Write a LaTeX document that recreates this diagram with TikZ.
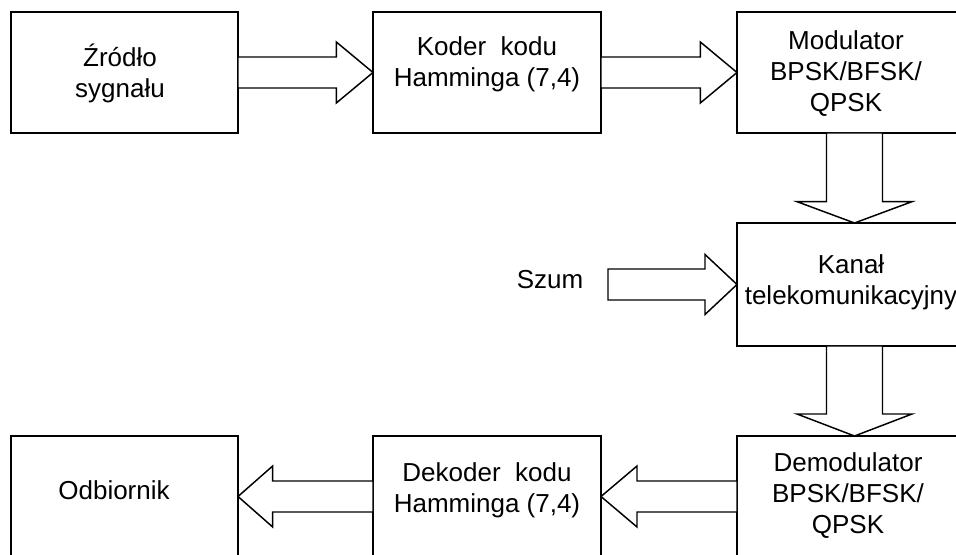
\documentclass[tikz,border=0pt]{standalone}
\usepackage{fontspec}
\setmainfont{Liberation Sans}
\usetikzlibrary{calc}
\tikzset{
  box/.style={draw, line width=1.1pt, inner sep=0pt, outer sep=0pt, minimum height=90.75pt},
  txt/.style={inner sep=0pt, align=center, font=\fontsize{19.5pt}{23.25pt}\selectfont},
  fat/.style={draw, line width=1.1pt, line join=miter, fill=white}
}
% horizontal fat arrow: from, to, shaft half width, head half width, head length
\newcommand\harrow[5]{%
  \draw[fat] let \p1=(#1), \p2=(#2), \n1={(\x2-\x1)/abs(\x2-\x1)} in
    (\x1,{\y1+#3}) -- ({\x2-\n1*#5},{\y1+#3}) -- ({\x2-\n1*#5},{\y1+#4}) --
    (\x2,\y1) -- ({\x2-\n1*#5},{\y1-#4}) -- ({\x2-\n1*#5},{\y1-#3}) --
    (\x1,{\y1-#3}) -- cycle;}
% vertical fat arrow (downwards)
\newcommand\varrow[5]{%
  \draw[fat] let \p1=(#1), \p2=(#2), \n1={(\y2-\y1)/abs(\y2-\y1)} in
    ({\x1+#3},\y1) -- ({\x1+#3},{\y2-\n1*#5}) -- ({\x1+#4},{\y2-\n1*#5}) --
    (\x1,\y2) -- ({\x1-#4},{\y2-\n1*#5}) -- ({\x1-#3},{\y2-\n1*#5}) --
    ({\x1-#3},\y1) -- cycle;}
\begin{document}
\begin{tikzpicture}[x=0.75pt,y=-0.75pt]
\useasboundingbox (0,0) rectangle (956,555);
\clip (0,0) rectangle (956,555);
\fill[white] (0,0) rectangle (956,555);
% boxes
\node[box, minimum width=170.25pt] (src) at (124.5,72.5) {};
\node[box, minimum width=171pt] (koder) at (487,72.5) {};
\node[box, minimum width=176.25pt] (mod) at (854.5,72.5) {};
\node[box, minimum width=176.25pt, minimum height=92.25pt] (kanal) at (854.5,284.5) {};
\node[box, minimum width=176.25pt] (demod) at (854.5,496.5) {};
\node[box, minimum width=171pt] (dek) at (487,496.5) {};
\node[box, minimum width=170.25pt] (odb) at (124.5,496.5) {};
% texts
\node[txt] (srct) at (120,73) {Źródło\\sygnału};
\node[txt] (kodert) at (487,64.5) {Koder\ \ kodu\\Hamminga (7,4)};
\node[txt] (modt) at (846,74) {Modulator\\BPSK/BFSK/\\QPSK};
\node[txt] (kanalt) at (851,282) {Kanał\\telekomunikacyjny};
\node[txt] (szum) at (550,280) {Szum};
\node[txt] (demodt) at (848,496) {Demodulator\\BPSK/BFSK/\\QPSK};
\node[txt] (dekt) at (487,490) {Dekoder\ \ kodu\\Hamminga (7,4)};
\node[txt] (odbt) at (114,490) {Odbiornik};
% arrows
\coordinate (szumstart) at (608,284.5);
\harrow{src.east}{koder.west}{11.625pt}{22.875pt}{27.5pt}
\harrow{koder.east}{mod.west}{11.625pt}{22.875pt}{27.5pt}
\varrow{mod.south}{kanal.north}{21pt}{43.125pt}{16pt}
\harrow{szumstart}{kanal.west}{11.625pt}{22.5pt}{24pt}
\varrow{kanal.south}{demod.north}{21pt}{43.125pt}{16.5pt}
\harrow{demod.west}{dek.east}{11.625pt}{22.875pt}{27pt}
\harrow{dek.west}{odb.east}{11.625pt}{22.875pt}{26pt}
\end{tikzpicture}
\end{document}
